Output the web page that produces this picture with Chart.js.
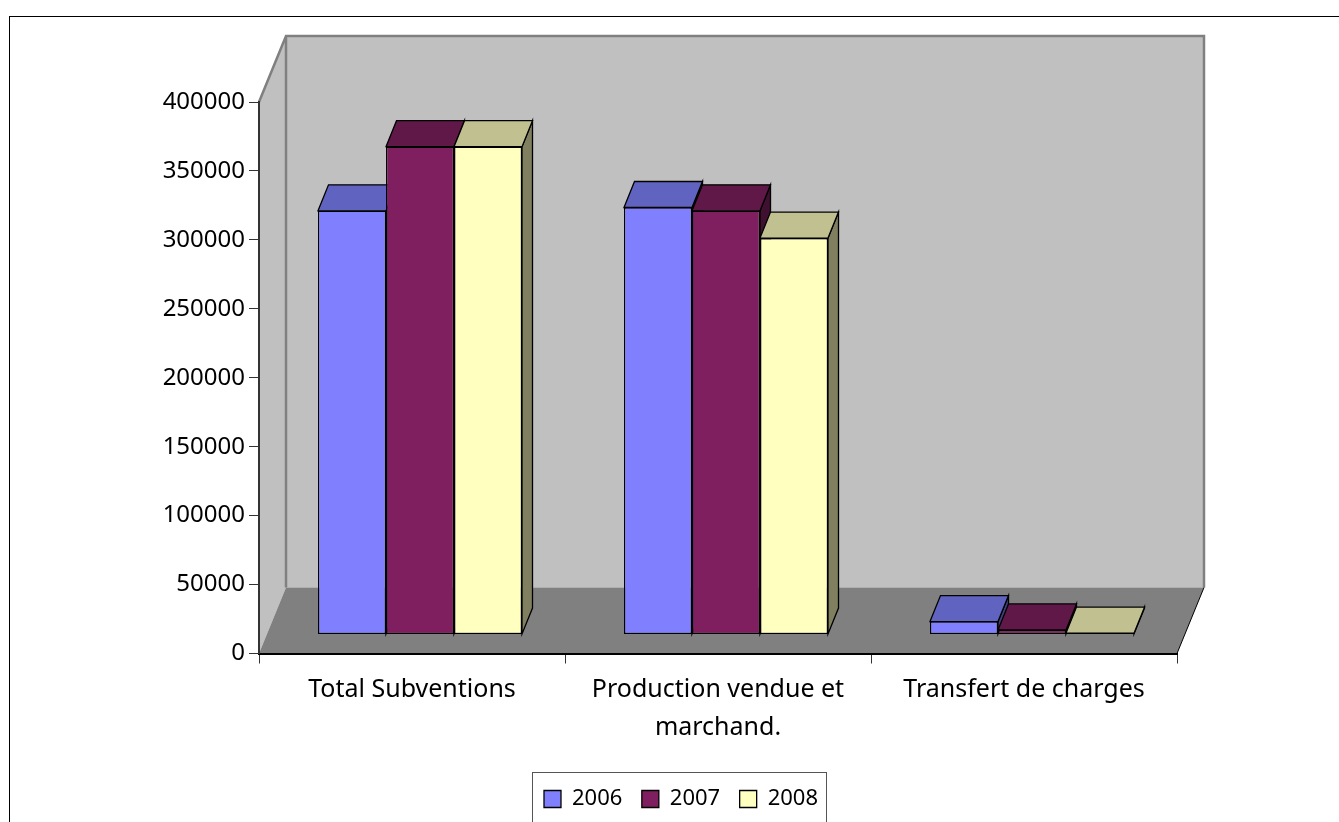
<!DOCTYPE html>
<html lang="fr">
<head>
    <meta charset="UTF-8">
    <title>Ressources 2006-2008</title>
    <script src="https://cdn.jsdelivr.net/npm/chart.js"></script>
    <style>
        html, body { margin: 0; padding: 0; background: #fff; overflow: hidden; }
        #wrap { width: 1339px; height: 822px; overflow: hidden; }
        canvas { display: block; }
    </style>
</head>
<body>
    <div id="wrap"><canvas id="chart" width="1339" height="860"></canvas></div>

    <script>
        const categories = [['Total Subventions'], ['Production vendue et', 'marchand.'], ['Transfert de charges']];
        const years = ['2006', '2007', '2008'];
        const values2006 = [307300, 309700, 9400];
        const values2007 = [353800, 307300, 3300];
        const values2008 = [353800, 287500, 1000];

        const frontColors = ['#8080ff', '#7f1f5f', '#ffffc0'];
        const topColors = ['#6064c0', '#601848', '#c0c090'];
        const sideColors = ['#404080', '#401030', '#808060'];

        const FONT = '"Noto Sans", Tahoma, sans-serif';

        // floor depth of the 3D box, and how far back the bars stand on it
        const WALL_DX = 27, WALL_DY = 66;
        const BAR_SHIFT_X = 8, BAR_SHIFT_Y = 19;
        const BAR_DX = 10.5, BAR_DY = 26;

        function poly(ctx, pts, fill, stroke, width) {
            ctx.beginPath();
            pts.forEach((p, i) => i ? ctx.lineTo(p[0], p[1]) : ctx.moveTo(p[0], p[1]));
            ctx.closePath();
            if (fill) { ctx.fillStyle = fill; ctx.fill(); }
            if (stroke) { ctx.strokeStyle = stroke; ctx.lineWidth = width || 1; ctx.stroke(); }
        }

        // walls, floor, outer frame, legend box and the bar faces
        const box3d = {
            id: 'box3d',
            afterLayout(chart) {
                // legend sits right of the canvas centre
                chart.legend.left += 18;
                chart.legend.right += 18;
            },
            beforeDraw(chart) {
                const ctx = chart.ctx;
                const { left, right, top, bottom } = chart.chartArea;
                const bx = left + WALL_DX, bxr = right + WALL_DX;
                const by = top - WALL_DY, byb = bottom - WALL_DY;

                ctx.save();
                ctx.strokeStyle = '#000';
                ctx.lineWidth = 1;
                ctx.strokeRect(9.5, 16.5, 1400, 900);

                poly(ctx, [[left, top], [bx, by], [bx, byb], [left, bottom]], '#c0c0c0');
                poly(ctx, [[bx, by], [bxr, by], [bxr, byb], [bx, byb]], '#c0c0c0');
                poly(ctx, [[left, bottom], [bx, byb], [bxr, byb], [right, bottom]], '#808080');

                // wall edges
                ctx.strokeStyle = '#808080';
                ctx.lineWidth = 2.5;
                ctx.beginPath();
                ctx.moveTo(left, top);
                ctx.lineTo(bx, by);
                ctx.lineTo(bxr, by);
                ctx.lineTo(bxr, byb);
                ctx.moveTo(bx, by);
                ctx.lineTo(bx, byb);
                ctx.stroke();

                ctx.strokeStyle = '#000';
                ctx.lineWidth = 1;
                ctx.beginPath();
                ctx.moveTo(right, bottom);
                ctx.lineTo(bxr, byb);
                ctx.stroke();

                // legend frame
                ctx.strokeStyle = '#555';
                ctx.strokeRect(532.5, 772.5, 294, 100);
                ctx.restore();
            },
            beforeDatasetsDraw(chart) {
                const ctx = chart.ctx;
                ctx.save();
                ctx.translate(BAR_SHIFT_X, -BAR_SHIFT_Y);
                // side and top faces go first, series by series; the fronts cover them afterwards
                years.forEach((y, i) => {
                    chart.getDatasetMeta(i).data.forEach(bar => {
                        const l = bar.x - bar.width / 2, r = bar.x + bar.width / 2;
                        const t = bar.y, b = bar.base;
                        poly(ctx, [[r, t], [r + BAR_DX, t - BAR_DY], [r + BAR_DX, b - BAR_DY], [r, b]], sideColors[i], '#000', 1.3);
                        poly(ctx, [[l, t], [l + BAR_DX, t - BAR_DY], [r + BAR_DX, t - BAR_DY], [r, t]], topColors[i], '#000', 1.3);
                    });
                });
            },
            afterDatasetsDraw(chart) {
                chart.ctx.restore();
            }
        };

        const datasetValues = [values2006, values2007, values2008];

        new Chart(document.getElementById('chart'), {
            type: 'bar',
            data: {
                labels: categories,
                datasets: years.map((y, i) => ({
                    label: y,
                    data: datasetValues[i],
                    backgroundColor: frontColors[i],
                    borderColor: '#000',
                    borderWidth: 1.3,
                    borderSkipped: false,
                    barPercentage: 1,
                    categoryPercentage: 204 / 306,
                    clip: false
                }))
            },
            options: {
                responsive: false,
                animation: false,
                layout: { padding: { left: 149, right: 162, top: 102, bottom: 40 } },
                plugins: {
                    tooltip: { enabled: false },
                    legend: {
                        position: 'bottom',
                        labels: {
                            boxWidth: 17,
                            boxHeight: 17,
                            padding: 19.5,
                            color: '#000',
                            font: { family: FONT, size: 22 }
                        }
                    }
                },
                scales: {
                    x: {
                        afterFit(scale) { scale.height = 115; },
                        border: { color: '#000', width: 2 },
                        grid: { drawOnChartArea: false, color: '#333', tickLength: 10 },
                        ticks: {
                            color: '#000',
                            padding: 7,
                            maxRotation: 0,
                            autoSkip: false,
                            font: { family: FONT, size: 25, lineHeight: 1.52 }
                        }
                    },
                    y: {
                        min: 0,
                        max: 400000,
                        afterFit(scale) { scale.width = 110; },
                        border: { color: '#333', width: 2 },
                        grid: { drawOnChartArea: false, color: '#333', tickLength: 10 },
                        ticks: {
                            stepSize: 50000,
                            color: '#000',
                            padding: 4,
                            callback: v => String(v),
                            font: { family: FONT, size: 24 }
                        }
                    }
                }
            },
            plugins: [box3d]
        });
    </script>
</body>
</html>
